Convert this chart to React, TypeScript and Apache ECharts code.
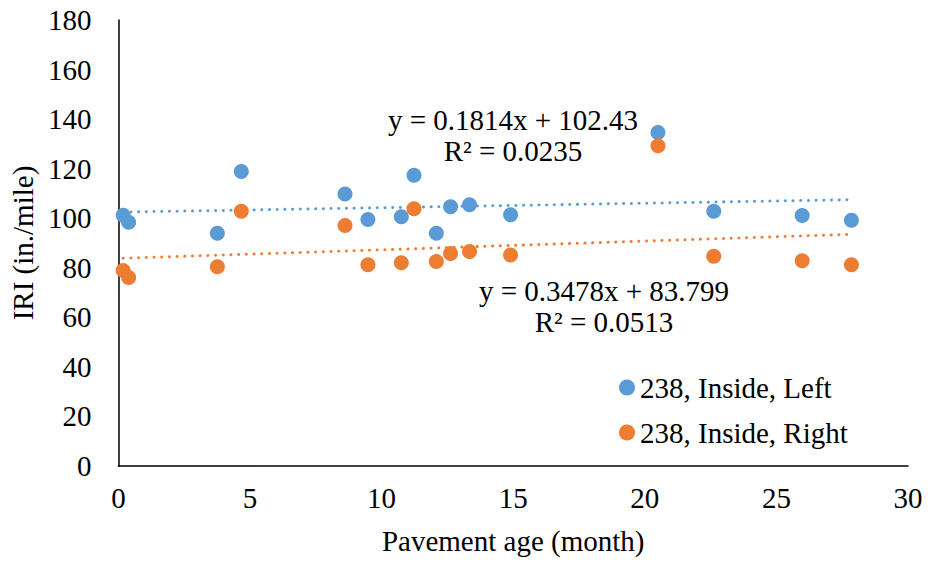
import React, { useEffect, useRef } from "react";
import * as echarts from "echarts";

const ages = [0.18, 0.39, 3.76, 4.67, 8.61, 9.48, 10.75, 11.23, 12.08, 12.62, 13.34, 14.9, 20.5, 22.62, 25.98, 27.85];
const leftIRI = [101.2, 98.4, 93.9, 118.9, 109.8, 99.5, 100.6, 117.3, 93.9, 104.6, 105.4, 101.4, 134.6, 102.8, 101.1, 99.2];
const rightIRI = [78.9, 76.1, 80.4, 102.8, 97.1, 81.2, 82.0, 103.8, 82.5, 85.8, 86.6, 85.2, 129.2, 84.7, 82.8, 81.2];
const seriesNames = ["238, Inside, Left", "238, Inside, Right"];
const slopes = [0.1814, 0.3478];
const intercepts = [102.43, 83.799];
const r2 = ["0.0235", "0.0513"];
const xTicks = { min: 0, max: 30, interval: 5 };
const yTicks = { min: 0, max: 180, interval: 20 };

const COLORS = ["#5B9BD5", "#ED7D31"];
const FONT = "'Liberation Serif', 'Times New Roman', serif";
const FS = 29;

export default function App() {
  const ref = useRef<HTMLDivElement>(null);
  useEffect(() => {
    if (!ref.current) return;
    const chart = echarts.init(ref.current, undefined, { renderer: "svg" });
    const xmin = Math.min(...ages);
    const xmax = Math.max(...ages);
    const trend = (i: number) => [
      [xmin, intercepts[i] + slopes[i] * xmin],
      [xmax, intercepts[i] + slopes[i] * xmax],
    ];
    const pts = (vals: number[]) => ages.map((a, i) => [a, vals[i]]);
    chart.setOption({
      animation: false,
      textStyle: { fontFamily: FONT, color: "#000" },
      grid: { left: 117, right: 21, top: 20, bottom: 96 },
      xAxis: {
        type: "value",
        min: xTicks.min,
        max: xTicks.max,
        interval: xTicks.interval,
        name: "Pavement age (month)",
        nameLocation: "middle",
        nameGap: 60,
        nameTextStyle: { fontFamily: FONT, fontSize: FS, color: "#000" },
        axisLine: { lineStyle: { color: "#000", width: 1.5 } },
        axisTick: { show: false },
        splitLine: { show: false },
        axisLabel: { fontFamily: FONT, fontSize: FS, color: "#000", margin: 17 },
      },
      yAxis: {
        type: "value",
        min: yTicks.min,
        max: yTicks.max,
        interval: yTicks.interval,
        name: "IRI (in./mile)",
        nameLocation: "middle",
        nameGap: 71,
        nameTextStyle: { fontFamily: FONT, fontSize: FS, color: "#000" },
        axisLine: { show: true, lineStyle: { color: "#000", width: 1.5 } },
        axisTick: { show: false },
        splitLine: { show: false },
        axisLabel: { fontFamily: FONT, fontSize: FS, color: "#000", margin: 27 },
      },
      legend: {
        data: seriesNames,
        orient: "vertical",
        left: 614,
        top: 368,
        icon: "circle",
        itemWidth: 16,
        itemHeight: 16,
        itemGap: 16,
        textStyle: { fontFamily: FONT, fontSize: FS, color: "#000" },
      },
      series: [
        {
          name: seriesNames[0],
          type: "scatter",
          data: pts(leftIRI),
          symbolSize: 15,
          itemStyle: { color: COLORS[0], opacity: 1 },
          z: 3,
        },
        {
          name: seriesNames[1],
          type: "scatter",
          data: pts(rightIRI),
          symbolSize: 15,
          itemStyle: { color: COLORS[1], opacity: 1 },
          z: 3,
        },
        ...[0, 1].map((i) => ({
          name: "trend" + i,
          type: "line",
          data: trend(i),
          showSymbol: false,
          symbol: "none",
          lineStyle: { color: COLORS[i], width: 3, type: [0.1, 7.6], cap: "round" },
          z: 2,
          silent: true,
        })),
      ],
      graphic: [
        {
          type: "text",
          x: 513,
          y: 135,
          style: {
            text: `y = ${slopes[0]}x + ${intercepts[0]}\nR² = ${r2[0]}`,
            fontFamily: FONT,
            fontSize: FS,
            lineHeight: 31,
            fill: "#000",
            align: "center",
            verticalAlign: "middle",
          },
        },
        {
          type: "text",
          x: 604,
          y: 306,
          style: {
            text: `y = ${slopes[1]}x + ${intercepts[1]}\nR² = ${r2[1]}`,
            fontFamily: FONT,
            fontSize: FS,
            lineHeight: 31,
            fill: "#000",
            align: "center",
            verticalAlign: "middle",
          },
        },
      ],
    });
    return () => chart.dispose();
  }, []);
  return <div ref={ref} style={{ width: 929, height: 562, position: "absolute", left: 0, top: 0 }} />;
}
